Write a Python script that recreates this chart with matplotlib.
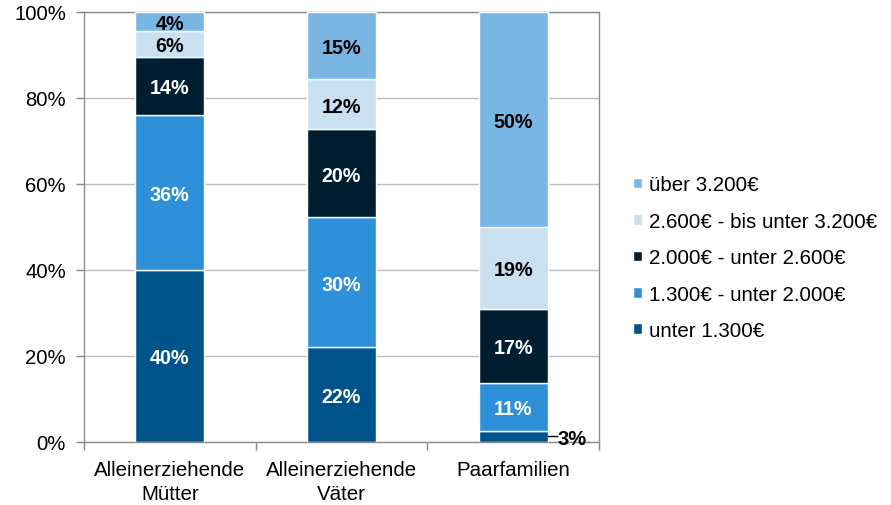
import matplotlib
matplotlib.use("Agg")
import matplotlib.pyplot as plt
import numpy as np

plt.rcParams['font.family'] = ['Liberation Sans', 'DejaVu Sans']

categories = ["Alleinerziehende\nMütter", "Alleinerziehende\nVäter", "Paarfamilien"]
series_names = ["unter 1.300€", "1.300€ - unter 2.000€", "2.000€ - unter 2.600€",
                "2.600€ - bis unter 3.200€", "über 3.200€"]
values = {
    "unter 1.300€":              [40.0, 22.1, 2.6],
    "1.300€ - unter 2.000€":     [36.0, 30.2, 11.2],
    "2.000€ - unter 2.600€":     [13.6, 20.4, 17.2],
    "2.600€ - bis unter 3.200€": [6.0, 11.8, 19.0],
    "über 3.200€":               [4.4, 15.4, 50.0],
}
colors = ["#00548c", "#2e90d8", "#001e32", "#c8e0f0", "#7ab6e4"]
text_colors = ["white", "white", "white", "black", "black"]

fig = plt.figure(figsize=(8.91, 5.06), dpi=100)
ax = fig.add_axes([84/891, 1-443/506, (599-84)/891, (443-13)/506])

x = np.arange(len(categories))
bottom = np.zeros(len(categories))
handles = []
for name, col, tc in zip(series_names, colors, text_colors):
    v = np.array(values[name])
    bars = ax.bar(x, v, 0.4, bottom=bottom, color=col, edgecolor="white",
                  linewidth=1.0, label=name, zorder=3)
    handles.append(bars)
    for i, (b, val) in enumerate(zip(bottom, v)):
        lab = f"{round(val):d}%"
        if val < 4:
            # leader line + label to the right
            xr = x[i] + 0.2
            yc = b + val / 2
            ax.plot([xr, xr + 0.055], [yc, yc], color="black", lw=1.0, zorder=4,
                    clip_on=False)
            ax.text(xr + 0.06, yc - 0.4, lab, ha="left", va="center", color="black",
                    fontsize=14.5, fontweight="bold", zorder=5, clip_on=False)
        else:
            ax.text(x[i], b + val / 2, lab, ha="center", va="center_baseline",
                    color=tc, fontsize=14.2, fontweight="bold", zorder=5)
    bottom = bottom + v

ax.set_xlim(-0.5, 2.5)
ax.set_ylim(0, 100)
ax.set_yticks(np.arange(0, 101, 20))
ax.set_yticklabels([f"{t}%" for t in range(0, 101, 20)], fontsize=14.6)
ax.yaxis.grid(True, color="#bfbfbf", lw=1.0, zorder=0)
ax.set_axisbelow(True)

ax.set_xticks(x)
ax.set_xticklabels(categories, fontsize=14.8, linespacing=1.3)
ax.set_xticks([-0.5, 0.5, 1.5, 2.5], minor=True)
ax.tick_params(axis="x", which="major", length=0, pad=13)
ax.tick_params(axis="x", which="minor", length=6, color="#888888", width=1)
ax.tick_params(axis="y", length=6, color="#888888", width=1, pad=7)

for s in ax.spines.values():
    s.set_color("#8c8c8c")
    s.set_linewidth(1.0)

leg_handles = handles[::-1]
leg_labels = series_names[::-1]
fig.legend(leg_handles, leg_labels, loc="upper left",
           bbox_to_anchor=(625/891, 1-168/506), frameon=False, fontsize=14.8,
           handlelength=0.42, handleheight=0.42, handletextpad=0.33,
           labelspacing=0.85, borderaxespad=0)

fig.savefig("out.png", dpi=100)
